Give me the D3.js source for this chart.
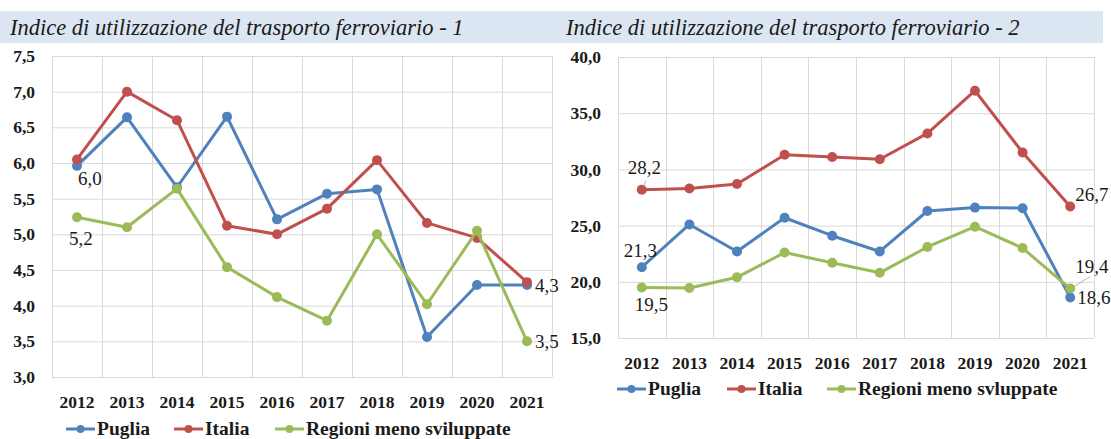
<!DOCTYPE html>
<html>
<head>
<meta charset="utf-8">
<script src="https://cdn.jsdelivr.net/npm/d3@7"></script>
<style>
  body { margin: 0; background: #fff; }
</style>
</head>
<body>
<svg></svg>
<script>
// Size of the whole picture
var width = 1111,
    height = 439

var serif = "'Liberation Serif', 'Times New Roman', Times, serif"

// Data
var years = ["2012", "2013", "2014", "2015", "2016", "2017", "2018", "2019", "2020", "2021"]
var seriesNames = ["Puglia", "Italia", "Regioni meno sviluppate"]
var seriesNames2 = ["Puglia", "Italia", "Regioni meno svluppate"]

var puglia1 = [5.96, 6.64, 5.66, 6.65, 5.21, 5.57, 5.63, 3.56, 4.29, 4.29]
var italia1 = [6.05, 7.0, 6.6, 5.12, 5.0, 5.36, 6.04, 5.16, 4.95, 4.33]
var regioni1 = [5.24, 5.1, 5.64, 4.54, 4.12, 3.79, 5.0, 4.02, 5.05, 3.5]

var puglia2 = [21.3, 25.1, 22.7, 25.7, 24.1, 22.7, 26.3, 26.6, 26.55, 18.6]
var italia2 = [28.2, 28.3, 28.7, 31.3, 31.1, 30.9, 33.2, 37.0, 31.5, 26.7]
var regioni2 = [19.5, 19.45, 20.4, 22.6, 21.7, 20.8, 23.1, 24.9, 23.0, 19.4]

var ticks1 = [3.0, 3.5, 4.0, 4.5, 5.0, 5.5, 6.0, 6.5, 7.0, 7.5]
var ticks2 = [15, 20, 25, 30, 35, 40]

var colors = ["#4f81bd", "#c0504d", "#9bbb59"]

var fmt = function(v) { return d3.format(".1f")(v).replace(".", ",") }

var svg = d3.select("svg")
    .attr("width", width)
    .attr("height", height)

// Title band across the top
svg.append("rect")
    .attr("x", 0)
    .attr("y", 11)
    .attr("width", 1103)
    .attr("height", 32)
    .style("fill", "#dce6f2")

function drawChart(c) {
    var g = svg.append("g")

    var x = d3.scaleBand()
        .domain(years)
        .range([c.left, c.right])

    var y = d3.scaleLinear()
        .domain(c.domain)
        .range([c.bottom, c.top])

    // Title
    g.append("text")
        .attr("x", c.titleX)
        .attr("y", 35)
        .style("font-family", serif)
        .style("font-style", "italic")
        .style("font-size", "22.5px")
        .style("fill", "#1a1a1a")
        .text(c.title)

    // Horizontal grid
    g.selectAll(".hgrid")
        .data(c.ticks)
        .enter().append("line")
        .attr("x1", c.left)
        .attr("x2", c.right)
        .attr("y1", function(d) { return y(d) + 0.5 })
        .attr("y2", function(d) { return y(d) + 0.5 })
        .style("stroke", "#d9d9d9")

    // Vertical grid (band edges)
    var edges = years.map(function(d) { return x(d) }).concat([c.right])
    g.selectAll(".vgrid")
        .data(edges)
        .enter().append("line")
        .attr("x1", function(d) { return Math.round(d) + 0.5 })
        .attr("x2", function(d) { return Math.round(d) + 0.5 })
        .attr("y1", c.top)
        .attr("y2", c.bottom)
        .style("stroke", "#d9d9d9")

    // Y tick labels
    g.selectAll(".ytick")
        .data(c.ticks)
        .enter().append("text")
        .attr("x", c.left - 17)
        .attr("y", function(d) { return y(d) })
        .attr("dy", "0.35em")
        .attr("text-anchor", "end")
        .style("font-family", serif)
        .style("font-weight", "bold")
        .style("font-size", "17.5px")
        .style("fill", "#1a1a1a")
        .text(fmt)

    // X tick labels
    g.selectAll(".xtick")
        .data(years)
        .enter().append("text")
        .attr("x", function(d) { return x(d) + x.bandwidth() / 2 })
        .attr("y", c.bottom + 31)
        .attr("text-anchor", "middle")
        .style("font-family", serif)
        .style("font-weight", "bold")
        .style("font-size", "17.5px")
        .style("fill", "#1a1a1a")
        .text(function(d) { return d })

    var line = d3.line()
        .x(function(d, i) { return x(years[i]) + x.bandwidth() / 2 })
        .y(function(d) { return y(d) })

    // Lines and markers
    c.series.forEach(function(s, k) {
        g.append("path")
            .datum(s)
            .attr("d", line)
            .style("fill", "none")
            .style("stroke", colors[k])
            .style("stroke-width", 3)
            .style("stroke-linejoin", "round")

        g.selectAll(".pt" + k)
            .data(s)
            .enter().append("circle")
            .attr("cx", function(d, i) { return x(years[i]) + x.bandwidth() / 2 })
            .attr("cy", function(d) { return y(d) })
            .attr("r", 5)
            .style("fill", colors[k])
    })

    // Data labels
    c.labels.forEach(function(l) {
        var v = c.series[l.s][l.i]
        var px = x(years[l.i]) + x.bandwidth() / 2,
            py = y(v)
        if (l.leader) {
            g.append("line")
                .attr("x1", px + l.leader[0])
                .attr("y1", py + l.leader[1])
                .attr("x2", px + l.leader[2])
                .attr("y2", py + l.leader[3])
                .style("stroke", "#a6a6a6")
                .style("stroke-width", 0.8)
        }
        g.append("text")
            .attr("x", px + l.dx)
            .attr("y", py + l.dy)
            .attr("dy", "0.35em")
            .style("font-family", serif)
            .style("font-size", "19px")
            .style("fill", "#1a1a1a")
            .text(fmt(v))
    })

    // Legend
    var lg = g.selectAll(".legend")
        .data(c.names)
        .enter().append("g")
        .attr("transform", function(d, i) { return "translate(" + c.legendX[i] + "," + c.legendY + ")" })

    lg.append("line")
        .attr("x1", 0)
        .attr("x2", 29)
        .style("stroke", function(d, i) { return colors[i] })
        .style("stroke-width", 3)

    lg.append("circle")
        .attr("cx", 14.5)
        .attr("r", 4)
        .style("fill", function(d, i) { return colors[i] })

    lg.append("text")
        .attr("x", 31)
        .attr("dy", "0.32em")
        .style("font-family", serif)
        .style("font-weight", "bold")
        .style("font-size", "19.5px")
        .style("fill", "#1a1a1a")
        .text(function(d) { return d })
}

drawChart({
    title: "Indice di utilizzazione del trasporto ferroviario - 1",
    titleX: 10,
    left: 52, right: 552, top: 56, bottom: 377,
    domain: [3, 7.5],
    ticks: ticks1,
    series: [puglia1, italia1, regioni1],
    names: seriesNames,
    labels: [
        {s: 0, i: 0, dx: 1, dy: 12},
        {s: 2, i: 0, dx: -8, dy: 21},
        {s: 0, i: 9, dx: 8, dy: 0},
        {s: 2, i: 9, dx: 8, dy: 0}
    ],
    legendX: [66, 174, 275],
    legendY: 429
})

drawChart({
    title: "Indice di utilizzazione del trasporto ferroviario - 2",
    titleX: 566,
    left: 618, right: 1094, top: 57, bottom: 338,
    domain: [15, 40],
    ticks: ticks2,
    series: [puglia2, italia2, regioni2],
    names: seriesNames2,
    labels: [
        {s: 1, i: 0, dx: -14, dy: -22, leader: [2, -3, 4, -9]},
        {s: 0, i: 0, dx: -18, dy: -17},
        {s: 2, i: 0, dx: -7, dy: 17},
        {s: 1, i: 9, dx: 5, dy: -12},
        {s: 2, i: 9, dx: 5, dy: -22, leader: [4, -2, 20, -12]},
        {s: 0, i: 9, dx: 7, dy: 0}
    ],
    legendX: [617, 727, 827],
    legendY: 389
})
</script>
</body>
</html>
